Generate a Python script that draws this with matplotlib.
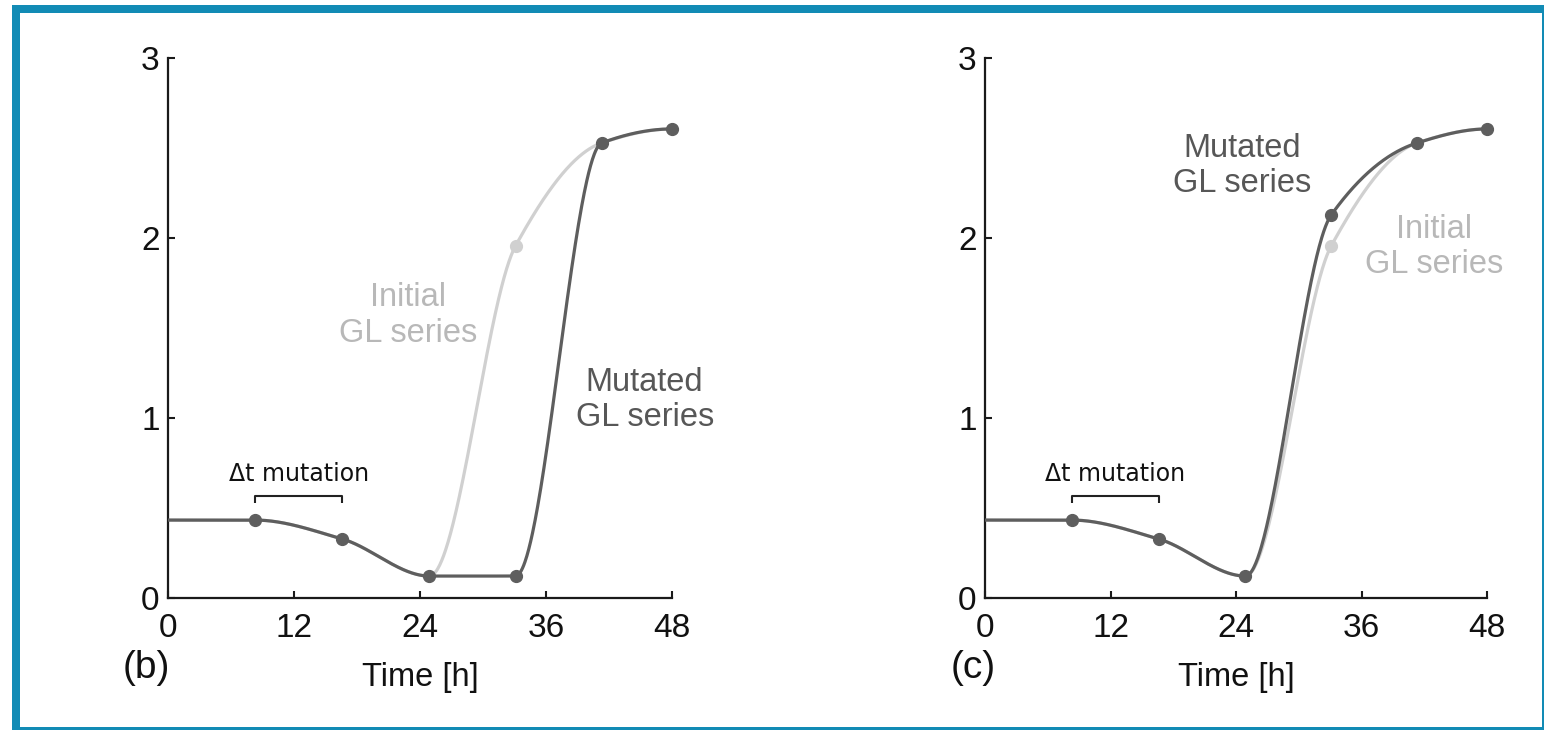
import numpy as np
import matplotlib.pyplot as plt
from matplotlib.patches import Rectangle

# knot times [h] and GL values
t = [0, 8.3, 16.6, 24.9, 33.1, 41.3, 48]
gl_initial = [0.433, 0.433, 0.328, 0.122, 1.956, 2.528, 2.606]
gl_mutated_b = [0.433, 0.433, 0.328, 0.122, 0.122, 2.528, 2.606]
gl_mutated_c = [0.433, 0.433, 0.328, 0.122, 2.128, 2.528, 2.606]
xticks = [0, 12, 24, 36, 48]
yticks = [0, 1, 2, 3]

dark = '#5e5e5e'
light = '#d0d0d0'
main_font = 'Liberation Sans'


def pchip(xk, yk, xs):
    # shape preserving piecewise cubic hermite, same rules as matlab pchip
    xk = np.asarray(xk, float)
    yk = np.asarray(yk, float)
    h = np.diff(xk)
    delta = np.diff(yk) / h
    n = len(xk)
    d = np.zeros(n)
    for k in range(1, n - 1):
        if delta[k - 1] * delta[k] > 0:
            w1 = 2 * h[k] + h[k - 1]
            w2 = h[k] + 2 * h[k - 1]
            d[k] = (w1 + w2) / (w1 / delta[k - 1] + w2 / delta[k])
    for k, (i0, i1) in [(0, (0, 1)), (n - 1, (n - 2, n - 3))]:
        h0, h1 = h[i0], h[i1]
        s = ((2 * h0 + h1) * delta[i0] - h0 * delta[i1]) / (h0 + h1)
        if np.sign(s) != np.sign(delta[i0]):
            s = 0
        elif np.sign(delta[i0]) != np.sign(delta[i1]) and abs(s) > abs(3 * delta[i0]):
            s = 3 * delta[i0]
        d[k] = s
    idx = np.clip(np.searchsorted(xk, xs) - 1, 0, n - 2)
    hh = h[idx]
    s = (xs - xk[idx]) / hh
    h00 = 2 * s**3 - 3 * s**2 + 1
    h10 = s**3 - 2 * s**2 + s
    h01 = -2 * s**3 + 3 * s**2
    h11 = s**3 - s**2
    return h00 * yk[idx] + h10 * hh * d[idx] + h01 * yk[idx + 1] + h11 * hh * d[idx + 1]


fig = plt.figure(figsize=(15.44, 7.3), dpi=100)
ax_b = fig.add_axes([0.1088, 0.1808, 0.3264, 0.7397])
ax_c = fig.add_axes([0.638, 0.1808, 0.3251, 0.7397])

ts = np.linspace(0, 48, 800)

panels = [
    (ax_b, gl_mutated_b, '(b)', 0.0946,
     (22.9, 1.57), (45.4, 1.1)),
    (ax_c, gl_mutated_c, '(c)', 0.630,
     (42.9, 1.95), (24.6, 2.4)),
]

for ax, gl_mut, tag, tag_x, init_pos, mut_pos in panels:
    ax.plot(ts, pchip(t, gl_initial, ts), color=light, lw=2.3, zorder=2)
    ax.plot(t[4], gl_initial[4], 'o', color=light, ms=8.5, zorder=3)
    ax.plot(ts, pchip(t, gl_mut, ts), color=dark, lw=2.3, zorder=4)
    ax.plot(t[1:], gl_mut[1:], 'o', color=dark, ms=8.5, zorder=5, clip_on=False)

    # bracket over the mutation window
    ax.plot([t[1], t[1], t[2], t[2]], [0.53, 0.565, 0.565, 0.53],
            color='#222222', lw=1.5, solid_capstyle='butt')
    ax.text((t[1] + t[2]) / 2, 0.69, '\u0394t mutation', ha='center', va='center',
            fontsize=17, family='DejaVu Sans', color='#111111')

    ax.text(init_pos[0], init_pos[1], 'Initial\nGL series', ha='center', va='center',
            fontsize=23.5, family=main_font, color='#b8b8b8', linespacing=1.2)
    ax.text(mut_pos[0], mut_pos[1], 'Mutated\nGL series', ha='center', va='center',
            fontsize=23.5, family=main_font, color='#575757', linespacing=1.2)

    ax.set_xlim(0, 48)
    ax.set_ylim(0, 3)
    ax.set_xticks(xticks)
    ax.set_yticks(yticks)
    for s in ['top', 'right']:
        ax.spines[s].set_visible(False)
    for s in ['left', 'bottom']:
        ax.spines[s].set_linewidth(1.6)
        ax.spines[s].set_color('#1a1a1a')
    ax.tick_params(direction='in', length=5, width=1.5, color='#1a1a1a',
                   labelsize=24, labelcolor='#111111')
    ax.tick_params(axis='x', pad=11)
    ax.tick_params(axis='y', pad=6)
    for lab in ax.get_xticklabels() + ax.get_yticklabels():
        lab.set_family(main_font)
    ax.set_xlabel('Time [h]', fontsize=23.5, family=main_font, color='#111111', labelpad=13)
    fig.text(tag_x, 0.085, tag, ha='center', va='center', fontsize=28,
             family=main_font, color='#111111')

# blue frame round the figure
frame = '#128bb5'
fig.add_artist(Rectangle((12 / 1544, 0), 8 / 1544, 1 - 5 / 730,
                         transform=fig.transFigure, color=frame, lw=0))
fig.add_artist(Rectangle((12 / 1544, 1 - 13 / 730), 1 - 12 / 1544, 8 / 730,
                         transform=fig.transFigure, color=frame, lw=0))
fig.add_artist(Rectangle((1 - 2 / 1544, 0), 2 / 1544, 1 - 5 / 730,
                         transform=fig.transFigure, color=frame, lw=0))
fig.add_artist(Rectangle((12 / 1544, 0), 1 - 12 / 1544, 3 / 730,
                         transform=fig.transFigure, color=frame, lw=0))

fig.savefig('out.png', dpi=100)
